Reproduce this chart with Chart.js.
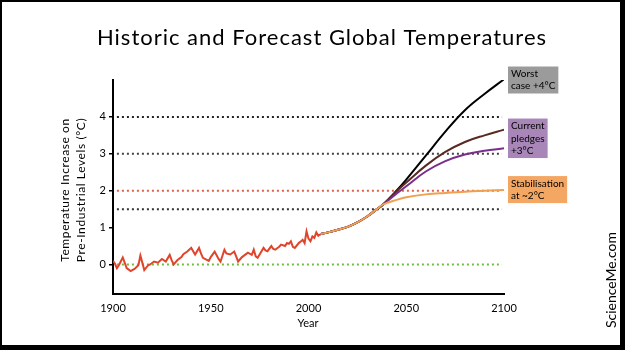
<!DOCTYPE html>
<html>
<head>
<meta charset="utf-8">
<script src="https://cdn.jsdelivr.net/npm/chart.js@4"></script>
<style>
  html, body { margin: 0; padding: 0; background: #fff; }
  #wrap { width: 625px; height: 350px; position: relative; }
</style>
</head>
<body>
<div id="wrap"><canvas id="tempChart" width="625" height="350"></canvas></div>
<script>
// historic observed temperatures (anomaly vs pre-industrial, deg C)
const histYears = [1900,1901,1902,1903,1905,1907,1909,1911,1913,1914,1915,1916,1918,1919,1921,1923,1925,1927,1929,1930,1931,1933,1935,1936,1938,1940,1941,1942,1944,1945,1946,1949,1950,1952,1954,1955,1957,1958,1960,1962,1963,1964,1966,1968,1969,1971,1972,1973,1974,1975,1977,1978,1979,1981,1982,1983,1985,1986,1988,1989,1990,1991,1992,1993,1995,1996,1997,1998,1999,2000,2001,2002,2003,2004,2005,2006];
const histValues = [0.10,0.02,-0.10,-0.02,0.19,-0.10,-0.18,-0.12,-0.02,0.24,0.05,-0.15,-0.02,0.00,0.08,0.05,0.15,0.08,0.26,0.12,0.00,0.12,0.20,0.28,0.35,0.45,0.36,0.27,0.45,0.30,0.18,0.10,0.20,0.35,0.15,0.08,0.40,0.30,0.27,0.35,0.22,0.08,0.20,0.28,0.32,0.26,0.40,0.22,0.18,0.27,0.45,0.38,0.36,0.50,0.42,0.40,0.48,0.54,0.50,0.58,0.56,0.63,0.48,0.45,0.58,0.62,0.67,0.58,0.90,0.70,0.63,0.76,0.72,0.87,0.78,0.82];

// forecast scenarios
const fcYears = [2006,2010,2015,2020,2025,2030,2035,2038,2045,2050,2060,2070,2080,2090,2100];
const worstCase = [0.82,0.87,0.94,1.02,1.14,1.30,1.50,1.62,2.00,2.30,2.95,3.60,4.18,4.62,5.02];
const pledgesHigh = [0.82,0.87,0.94,1.02,1.14,1.30,1.50,1.62,1.98,2.22,2.68,3.05,3.32,3.50,3.65];
const pledgesLow = [0.82,0.87,0.94,1.02,1.14,1.30,1.50,1.62,1.92,2.12,2.52,2.80,2.98,3.08,3.15];
const stabilisation = [0.82,0.87,0.94,1.02,1.14,1.30,1.50,1.62,1.75,1.82,1.90,1.94,1.97,2.00,2.02];

// dotted reference levels
const refLevels = [4, 3, 2, 1.5, 0];
const refColors = ['#222222', '#444444', '#e0604a', '#333333', '#6cbf3a'];

const yTicks = [0, 1, 2, 3, 4];
const xTicks = [1900, 1950, 2000, 2050, 2100];

// scenario labels on the right
const scenarioLabels = [['Worst', 'case +4°C'], ['Current', 'pledges', '+3°C'], ['Stabilisation', 'at ~2°C']];
const scenarioAnchors = [5.0, 3.42, 2.03];
const scenarioBoxColors = ['#9b9b9b', '#a886b8', '#f4a762'];

const FONT = 'Lato, "DejaVu Sans", sans-serif';

function pts(xs, ys) {
  return xs.map((x, i) => ({ x: x, y: ys[i] }));
}

const datasets = [];
datasets.push({ data: pts(histYears, histValues), borderColor: '#e0442a', borderWidth: 2, tension: 0, order: 1 });
datasets.push({ data: pts(fcYears, stabilisation), borderColor: '#f0a04e', borderWidth: 2, tension: 0.4, order: 2 });
datasets.push({ data: pts(fcYears, pledgesLow), borderColor: '#7a2d8c', borderWidth: 2, tension: 0.4, order: 2 });
datasets.push({ data: pts(fcYears, pledgesHigh), borderColor: '#5a2a22', borderWidth: 2, tension: 0.4, order: 2 });
datasets.push({ data: pts(fcYears, worstCase), borderColor: '#000000', borderWidth: 2, tension: 0.4, order: 2 });
refLevels.forEach((v, i) => {
  datasets.push({
    data: [{ x: 1902, y: v }, { x: 2099, y: v }],
    borderColor: refColors[i], borderWidth: 2, borderDash: [2, 3], order: 10
  });
});

const decor = {
  id: 'decor',
  afterDraw(chart) {
    const ctx = chart.ctx;
    const xs = chart.scales.x, ys = chart.scales.y;
    ctx.save();
    ctx.fillStyle = '#000';
    ctx.textAlign = 'center';
    ctx.textBaseline = 'middle';

    ctx.font = '22px ' + FONT;
    ctx.letterSpacing = '1px';
    ctx.fillText('Historic and Forecast Global Temperatures', 322, 38);
    ctx.letterSpacing = '0px';

    ctx.font = '11px ' + FONT;
    ctx.fillText('Year', 308, 323);

    // y axis title
    ctx.save();
    ctx.translate(73, 190);
    ctx.rotate(-Math.PI / 2);
    ctx.font = '12px ' + FONT;
    ctx.letterSpacing = '0.6px';
    ctx.fillText('Temperature Increase on', 0, -8);
    ctx.fillText('Pre-Industrial Levels (°C)', 0, 8);
    ctx.letterSpacing = '0px';
    ctx.restore();

    // watermark
    ctx.save();
    ctx.translate(611, 280);
    ctx.rotate(-Math.PI / 2);
    ctx.font = '14px ' + FONT;
    ctx.fillText('ScienceMe.com', 0, 0);
    ctx.restore();

    // scenario boxes
    ctx.font = '10px ' + FONT;
    ctx.textAlign = 'left';
    scenarioLabels.forEach((lines, i) => {
      const cy = ys.getPixelForValue(scenarioAnchors[i]);
      let w = 0;
      lines.forEach(t => { w = Math.max(w, ctx.measureText(t).width); });
      const lh = 12.5;
      const h = lines.length * lh + 2;
      const left = xs.right + 4;
      ctx.fillStyle = scenarioBoxColors[i];
      ctx.fillRect(left, cy - h / 2, w + 6, h);
      ctx.fillStyle = '#000';
      lines.forEach((t, j) => {
        ctx.fillText(t, left + 3, cy - h / 2 + 1 + lh * (j + 0.5));
      });
    });

    // frame
    ctx.fillStyle = '#000';
    ctx.fillRect(0, 0, 625, 2);
    ctx.fillRect(0, 0, 2, 350);
    ctx.fillRect(620, 0, 5, 350);
    ctx.fillRect(0, 345, 625, 5);
    ctx.restore();
  }
};

new Chart(document.getElementById('tempChart').getContext('2d'), {
  type: 'line',
  data: { datasets: datasets },
  options: {
    responsive: false,
    animation: false,
    layout: { padding: { left: 0, right: 121, top: 80, bottom: 0 } },
    elements: { point: { radius: 0 } },
    plugins: { legend: { display: false }, tooltip: { enabled: false } },
    scales: {
      x: {
        type: 'linear',
        min: 1900,
        max: 2100,
        afterFit(scale) { scale.height = 56; },
        afterBuildTicks(scale) { scale.ticks = xTicks.map(v => ({ value: v })); },
        grid: { display: false },
        border: { display: true, color: '#000', width: 2 },
        ticks: { color: '#000', font: { family: FONT, size: 11 }, padding: 0, maxRotation: 0, callback: v => String(v) }
      },
      y: {
        min: -0.8,
        max: 5,
        afterFit(scale) { scale.width = 113; },
        afterBuildTicks(scale) { scale.ticks = yTicks.map(v => ({ value: v })); },
        grid: { display: true, drawOnChartArea: false, color: '#000', tickLength: 4, lineWidth: 1.5 },
        border: { display: true, color: '#000', width: 2 },
        ticks: { color: '#000', font: { family: FONT, size: 11 }, padding: 3 }
      }
    }
  },
  plugins: [decor]
});
</script>
</body>
</html>
